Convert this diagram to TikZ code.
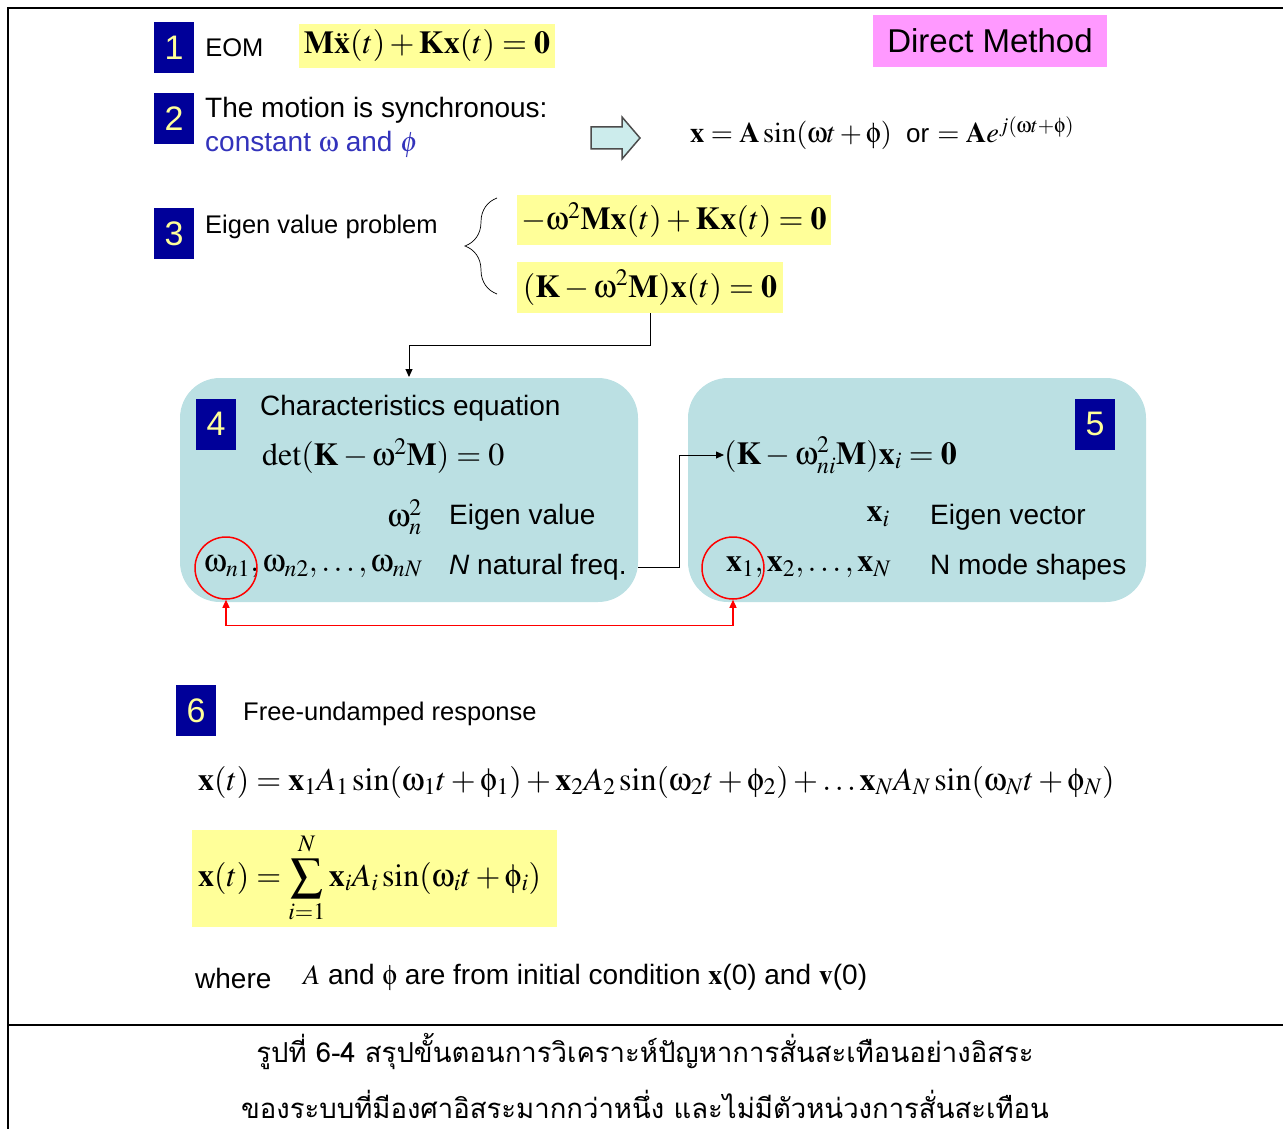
\documentclass[tikz,border=0pt]{standalone}
\usepackage{mathptmx}
\usepackage[Symbol]{upgreek}
\usepackage{amsmath}
\usepackage[no-math]{fontspec}
\setmainfont{Liberation Sans}
\newfontfamily\thaifont[Script=Thai]{Loma}
\usetikzlibrary{arrows.meta, positioning, decorations.pathreplacing, calc}
\definecolor{navy}{RGB}{0,0,153}
\definecolor{numyellow}{RGB}{255,255,153}
\definecolor{hlyellow}{RGB}{255,255,153}
\definecolor{hlpink}{RGB}{255,153,255}
\definecolor{boxcyan}{RGB}{187,224,227}
\definecolor{txtblue}{RGB}{51,51,187}
\definecolor{arrowcyan}{RGB}{204,236,236}
\newcommand{\om}{\upomega}
\newcommand{\ph}{\upphi}
\tikzset{
  numbox/.style={rectangle,fill=navy,text=numyellow,minimum width=40pt,minimum height=51pt,inner sep=0pt,font=\fontsize{34}{40}\selectfont},
  lbl/.style={inner sep=0pt,anchor=west,font=\fontsize{28}{33}\selectfont},
  slbl/.style={inner sep=0pt,anchor=west,font=\fontsize{25.5}{30}\selectfont},
  eqn/.style={inner sep=0pt,font=\fontsize{32}{38}\selectfont},
  ybox/.style={rectangle,fill=hlyellow,inner sep=0pt},
  stepbox/.style={rectangle,rounded corners=40pt,fill=boxcyan,minimum width=458pt,minimum height=224pt,inner sep=0pt},
  ring/.style={circle,draw=red,line width=1.5pt,minimum size=62pt,inner sep=0pt},
  arr/.style={-{Triangle[length=8pt,width=7pt]},line width=1pt},
  redarr/.style={{Triangle[length=8pt,width=7pt]}-{Triangle[length=8pt,width=7pt]},red,line width=1.2pt},
  caption/.style={inner sep=0pt,font=\thaifont\fontsize{27.5}{32}\selectfont}
}

\begin{document}
\begin{tikzpicture}[x=1pt,y=-1pt]
  \useasboundingbox (0,0) rectangle (1283,1129);
  \draw[line width=2pt] (1283,8) -- (8,8) -- (8,1129);
  \draw[line width=1.5pt] (8,1025) -- (1283,1025);

  % step 1
  \node[numbox] (n1) at (174,47.5) {1};
  \node[slbl, right=11pt of n1] (eom) {EOM};
  \node[ybox, eqn, minimum width=256pt, minimum height=44pt] (e1) at (427,46)
    {$\mathbf{M}\ddot{\mathbf{x}}(t)+\mathbf{K}\mathbf{x}(t)=\mathbf{0}$};
  \node[rectangle, fill=hlpink, minimum width=234pt, minimum height=52pt, inner sep=0pt,
    font=\fontsize{33}{38}\selectfont] (dm) at (990,41) {Direct Method};

  % step 2
  \node[numbox] (n2) at (174,119) {2};
  \node[lbl] (sync) at (205,110) {The motion is synchronous:};
  \node[lbl, text=txtblue] (const) at (205,145) {constant $\om$ and $\phi$};
  \draw[black!70, line width=1.5pt, fill=arrowcyan]
    (591,127) -- (622,127) -- (622,117) -- (640,138) -- (622,159) -- (622,149) -- (591,149) -- cycle;
  \node[eqn, anchor=west, font=\fontsize{28.5}{34}\selectfont] (e2) at (690,133)
    {$\mathbf{x}=\mathbf{A}\sin(\om t+\ph)$\enspace{\fontsize{26}{30}\selectfont or} $=\mathbf{A}e^{j(\om t+\ph)}$};

  % step 3
  \node[numbox] (n3) at (174,233.5) {3};
  \node[slbl] (evp) at (205,227) {Eigen value problem};
  \node[ybox, eqn, minimum width=314pt, minimum height=50pt] (e3a) at (674,220)
    {$-\om^2\mathbf{M}\mathbf{x}(t)+\mathbf{K}\mathbf{x}(t)=\mathbf{0}$};
  \node[ybox, eqn, minimum width=266pt, minimum height=51pt] (e3b) at (650,287.5)
    {$(\mathbf{K}-\om^2\mathbf{M})\mathbf{x}(t)=\mathbf{0}$};
  \draw[decorate, decoration={brace, amplitude=32pt}, line width=0.7pt]
    (497,294) -- (497,198);

  % step 4 and 5
  \node[stepbox] (s4) at (409,490) {};
  \node[stepbox] (s5) at (917,490) {};
  \coordinate (k4) at (409,377);
  \draw[arr] (e3b.south) -- ++(0,32) -| (k4);

  \node[numbox] (n4) at (216,424) {4};
  \node[lbl] (che) at (260,408) {Characteristics equation};
  \node[eqn, anchor=west] (det) at (262,456) {$\det(\mathbf{K}-\om^2\mathbf{M})=0$};
  \node[eqn, anchor=east] (wn) at (422,517) {$\om_n^2$};
  \node[lbl] (eval) at (449,517) {Eigen value};
  \node[eqn, anchor=west] (wlist) at (204,567) {$\om_{n1},\om_{n2},\ldots,\om_{nN}$};
  \node[lbl] (nat) at (449,567) {\textit{N} natural freq.};

  \node[numbox] (n5) at (1095,424) {5};
  \node[eqn, anchor=west] (e5) at (724,455) {$(\mathbf{K}-\om_{ni}^2\mathbf{M})\mathbf{x}_i=\mathbf{0}$};
  \node[eqn, anchor=east] (xi) at (890,517) {$\mathbf{x}_i$};
  \node[lbl] (evec) at (930,517) {Eigen vector};
  \node[eqn, anchor=west] (xlist) at (726,567) {$\mathbf{x}_1,\mathbf{x}_2,\ldots,\mathbf{x}_N$};
  \node[lbl] (modes) at (930,567) {N mode shapes};

  \node[ring] (c1) at (226,568) {};
  \node[ring] (c2) at (733,568) {};

  \draw[arr, line width=0.8pt] (s4.east |- nat.east) -- ++(41,0) |- (e5.west);
  \draw[redarr] (c1.south) -- ++(0,26) -| (c2.south);

  % step 6
  \node[numbox] (n6) at (196,710.5) {6};
  \node[slbl] (free) at (243,714) {Free-undamped response};
  \node[eqn, anchor=west] (e6) at (198,782)
    {$\mathbf{x}(t)=\mathbf{x}_1A_1\sin(\om_1t+\ph_1)+\mathbf{x}_2A_2\sin(\om_2t+\ph_2)+\ldots\mathbf{x}_NA_N\sin(\om_Nt+\ph_N)$};
  \node[ybox, minimum width=365pt, minimum height=97pt] (sumbox) at (374.5,878.5) {};
  \node[eqn, anchor=west] (esum) at (198,878)
    {$\mathbf{x}(t)=\displaystyle\sum_{i=1}^{N}\mathbf{x}_iA_i\sin(\om_it+\ph_i)$};
  \node[lbl] (where) at (195,978) {where};
  \node[lbl] (init) at (303,978) {$A$ and $\ph$ are from initial condition $\mathbf{x}$(0) and $\mathbf{v}$(0)};

  % caption
  \node[caption] (cap1) at (645,1052) {รูปที่ 6-4 สรุปขั้นตอนการวิเคราะห์ปัญหาการสั่นสะเทือนอย่างอิสระ};
  \node[caption] (cap2) at (645,1104) {ของระบบที่มีองศาอิสระมากกว่าหนึ่ง และไม่มีตัวหน่วงการสั่นสะเทือน};
\end{tikzpicture}
\end{document}
